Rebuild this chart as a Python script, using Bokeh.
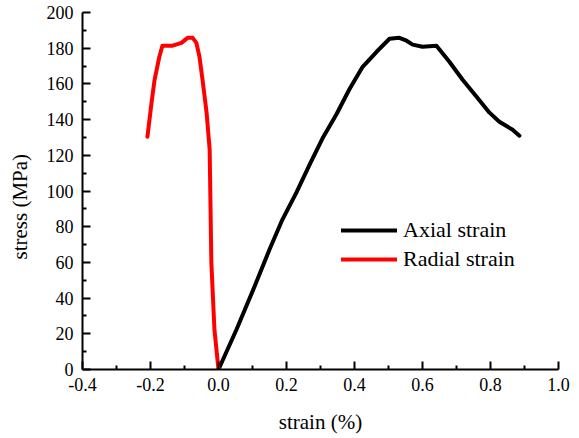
from bokeh.plotting import figure
from bokeh.models import Range1d, Legend, LegendItem, FixedTicker, NumeralTickFormatter
from bokeh.embed import file_html
from bokeh.resources import INLINE

# Axial strain curve (strain %, stress MPa)
axial_strain = [0.0, 0.053, 0.106, 0.150, 0.188, 0.229, 0.268, 0.306, 0.347, 0.385,
                0.424, 0.465, 0.503, 0.532, 0.553, 0.571, 0.600, 0.641, 0.679, 0.718,
                0.759, 0.797, 0.826, 0.865, 0.885]
axial_stress = [0.0, 22.4, 46.5, 67.2, 84.0, 99.1, 114.8, 129.5, 143.0, 157.0,
                169.6, 178.0, 185.3, 185.8, 184.2, 182.0, 180.8, 181.4, 172.4, 162.3,
                152.8, 143.9, 138.8, 134.3, 131.0]

# Radial strain curve
radial_strain = [0.0, -0.012, -0.021, -0.026, -0.035, -0.047, -0.056, -0.065, -0.076,
                 -0.091, -0.109, -0.135, -0.165, -0.174, -0.188, -0.197, -0.209]
radial_stress = [0.0, 22.4, 59.9, 123.2, 143.9, 162.3, 175.2, 183.0, 185.8,
                 185.8, 183.0, 181.4, 181.4, 175.2, 162.3, 149.5, 130.4]

x_ticks = [-0.4, -0.2, 0.0, 0.2, 0.4, 0.6, 0.8, 1.0]
x_minor = [-0.3, -0.1, 0.1, 0.3, 0.5, 0.7, 0.9]
y_ticks = [0, 20, 40, 60, 80, 100, 120, 140, 160, 180, 200]
y_minor = [10, 30, 50, 70, 90, 110, 130, 150, 170, 190]

FONT = "Liberation Serif"

p = figure(frame_width=476, frame_height=357, output_backend="svg", toolbar_location=None,
           x_range=Range1d(-0.4, 1.0), y_range=Range1d(0, 200),
           min_border_left=82, min_border_right=14, min_border_top=12, min_border_bottom=68)
p.grid.visible = False
p.outline_line_color = None
p.background_fill_color = "white"

r_ax = p.line(axial_strain, axial_stress, line_color="black", line_width=4,
              line_join="round", line_cap="round")
r_rad = p.line(radial_strain, radial_stress, line_color="#ff0000", line_width=4,
               line_join="round", line_cap="round")

p.xaxis.ticker = FixedTicker(ticks=x_ticks, minor_ticks=x_minor)
p.yaxis.ticker = FixedTicker(ticks=y_ticks, minor_ticks=y_minor)
p.xaxis.formatter = NumeralTickFormatter(format="0.0")

for ax in (p.xaxis[0], p.yaxis[0]):
    ax.axis_line_color = "black"
    ax.axis_line_width = 2
    ax.major_tick_line_color = "black"
    ax.major_tick_line_width = 2
    ax.minor_tick_line_color = "black"
    ax.minor_tick_line_width = 2
    ax.major_tick_in = 8
    ax.major_tick_out = 0
    ax.minor_tick_in = 4
    ax.minor_tick_out = 0
    ax.major_label_text_font = FONT
    ax.major_label_text_font_size = "18px"
    ax.major_label_text_color = "black"
    ax.axis_label_text_font = FONT
    ax.axis_label_text_font_size = "21px"
    ax.axis_label_text_font_style = "normal"
    ax.axis_label_text_color = "black"

p.xaxis.major_label_standoff = 8
p.yaxis.major_label_standoff = 9
p.xaxis.axis_label = "strain (%)"
p.xaxis.axis_label_standoff = 16
p.yaxis.axis_label = "stress (MPa)" + "\u00a0" * 6
p.yaxis.axis_label_standoff = 12

legend = Legend(items=[LegendItem(label="Axial strain", renderers=[r_ax]),
                       LegendItem(label="Radial strain", renderers=[r_rad])],
                location=(259, 97), padding=0, margin=0, spacing=3,
                glyph_width=56, glyph_height=20, label_height=20, label_standoff=6,
                border_line_alpha=0, background_fill_alpha=0,
                label_text_font=FONT, label_text_font_size="22px", label_text_color="black")
p.add_layout(legend)

open("out.html", "w").write(file_html(p, INLINE))
